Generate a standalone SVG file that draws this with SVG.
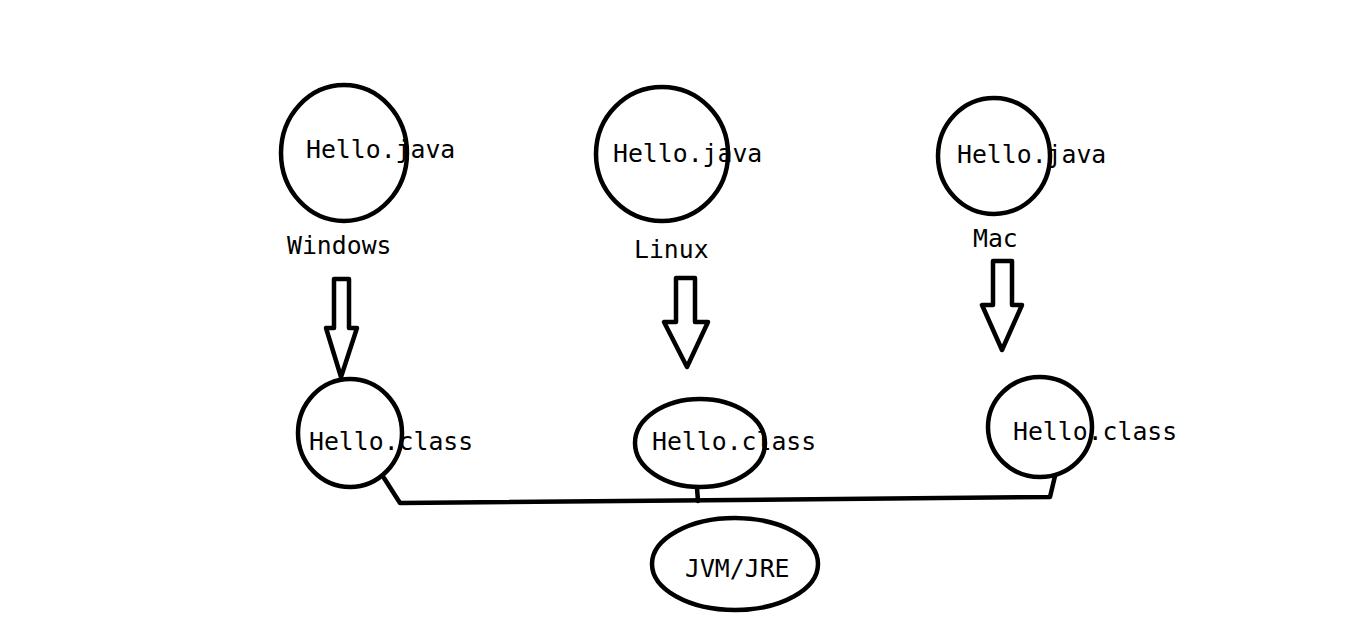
<svg xmlns="http://www.w3.org/2000/svg" width="1360" height="619" viewBox="0 0 1360 619">
<style>
.n{fill:none;stroke:#000;stroke-width:4.5}
.t{font-family:"DejaVu Sans Mono","Liberation Mono",monospace;font-size:24.8px;fill:#000}
.c{fill:none;stroke:#000;stroke-width:4.5;stroke-linecap:round;stroke-linejoin:round}
</style>
<rect width="1360" height="619" fill="#fff"/>
<g id="win-java"><ellipse class="n" cx="344" cy="153" rx="63" ry="68"/><text class="t" x="306" y="158">Hello.java</text></g>
<g id="linux-java"><ellipse class="n" cx="662" cy="154" rx="66" ry="67"/><text class="t" x="613" y="162">Hello.java</text></g>
<g id="mac-java"><ellipse class="n" cx="994" cy="156" rx="56" ry="58"/><text class="t" x="957" y="163">Hello.java</text></g>
<g id="win-label"><text class="t" x="287" y="254">Windows</text></g>
<g id="linux-label"><text class="t" x="634" y="258">Linux</text></g>
<g id="mac-label"><text class="t" x="973" y="247">Mac</text></g>
<g id="win-class"><ellipse class="n" cx="350" cy="433" rx="52" ry="54"/><text class="t" x="309" y="450">Hello.class</text></g>
<g id="linux-class"><ellipse class="n" cx="700" cy="443" rx="65" ry="44"/><text class="t" x="652" y="450">Hello.class</text></g>
<g id="mac-class"><ellipse class="n" cx="1040" cy="427" rx="52" ry="50"/><text class="t" x="1013" y="440">Hello.class</text></g>
<g id="jvm"><ellipse class="n" cx="735" cy="564" rx="83" ry="46"/><text class="t" x="685" y="577">JVM/JRE</text></g>
<g id="connectors">
<path class="c" d="M334 279 H349 V328 H357 L341 377 L326 328 H334 Z"/>
<path class="c" d="M676 278 H695 V322 H708 L687 367 L664 322 H676 Z"/>
<path class="c" d="M993 261 H1012 V305 H1022 L1002 350 L982 305 H993 Z"/>
<path class="c" d="M384 478 L400 503 L1050 497 L1055 476"/>
<path class="c" d="M697 488 L698 501"/>
</g>
</svg>
